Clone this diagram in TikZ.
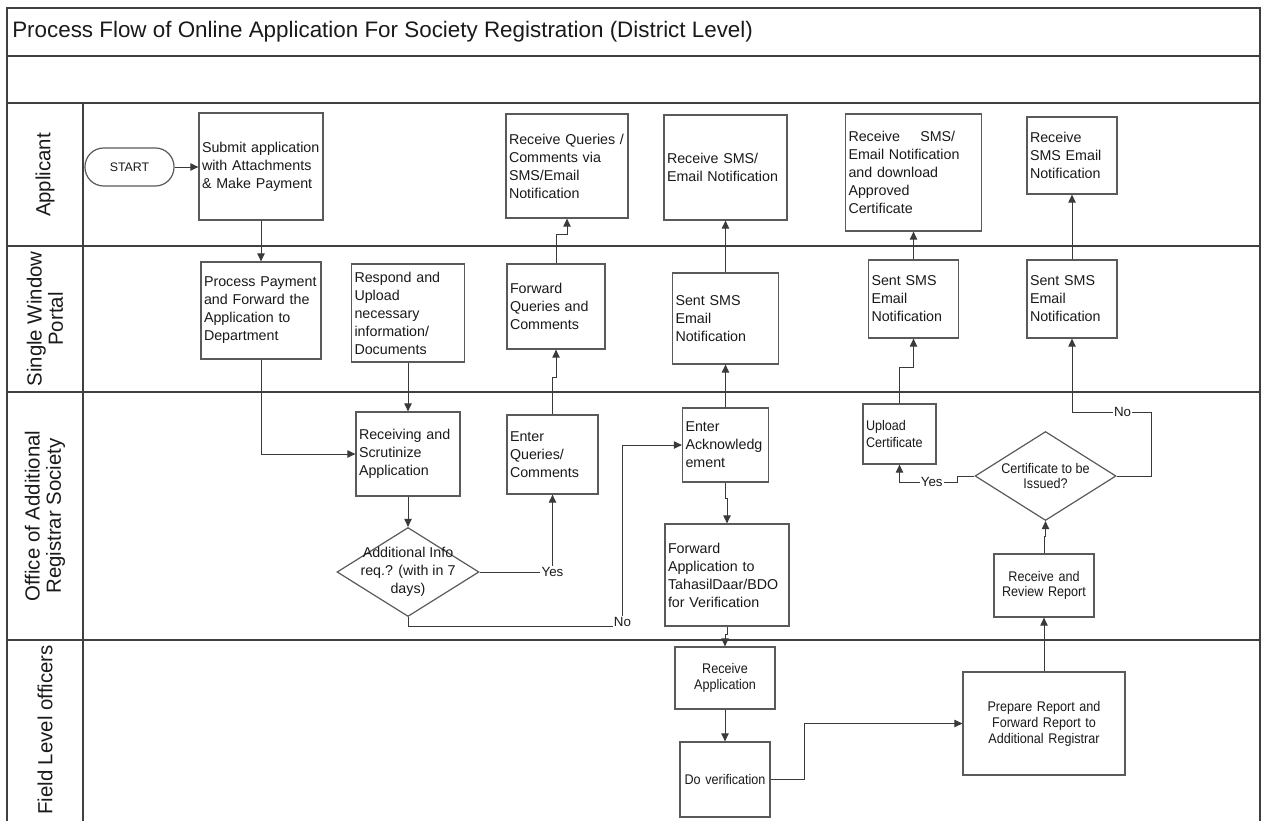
\documentclass[tikz,border=0pt]{standalone}
\usepackage{fontspec}
\setmainfont{Liberation Sans}
\newfontfamily\narrowfont[FakeStretch=0.9]{Liberation Sans}
\usetikzlibrary{arrows.meta,shapes.geometric}
\newlength\px
\setlength\px{0.75pt}
\hyphenpenalty=10000
\exhyphenpenalty=10000
\definecolor{framec}{HTML}{404040}
\definecolor{boxc}{HTML}{5A5A5A}
\definecolor{linec}{HTML}{3A3A3A}
\definecolor{inkc}{HTML}{1A1A1A}
\tikzset{
  frame/.style={draw=framec, line width=1.1pt},
  box/.style={draw=boxc, line width=0.9pt, fill=white, inner xsep=3\px, inner ysep=0pt,
    align=left, text=inkc, font=\fontsize{10.7}{13.5}\selectfont},
  nbox/.style={box, align=center, font=\narrowfont\fontsize{10.5}{12}\selectfont},
  decision/.style={diamond, draw=boxc, line width=0.9pt, fill=white, inner sep=0pt},
  dtext/.style={align=center, text=inkc, inner sep=0pt},
  conn/.style={draw=linec, line width=0.7pt},
  arr/.style={conn, -{Triangle[length=6pt,width=5.5pt]}},
  lbl/.style={fill=white, inner sep=1pt, text=inkc, font=\fontsize{10}{12}\selectfont},
  lane/.style={rotate=90, align=center, text=inkc, font=\fontsize{15.3}{16}\selectfont},
}
\begin{document}
\begin{tikzpicture}[x=\px, y=-\px]
\useasboundingbox (0,0) rectangle (1263,821);

% swimlane frame
\draw[frame] (7,821) -- (7,8) -- (1260,8) -- (1260,821);
\draw[frame] (7,56) -- (1260,56);
\draw[frame] (7,103) -- (1260,103);
\draw[frame] (83,103) -- (83,821);
\draw[frame] (7,246) -- (1260,246);
\draw[frame] (7,392) -- (1260,392);
\draw[frame] (7,640) -- (1260,640);

\node[anchor=west, inner sep=0pt, text=inkc, font=\fontsize{16.8}{19}\selectfont] (title) at (12,32)
  {Process Flow of Online Application For Society Registration (District Level)};

% lane names
\node[lane] (laneA) at (45,175) {Applicant};
\node[lane] (laneB) at (45,319) {Single Window\\Portal};
\node[lane] (laneC) at (45,516) {Office of Additional\\Registrar Society};
\node[lane] (laneD) at (45,730) {Field Level officers};

% Applicant
\node[draw=boxc, line width=0.9pt, fill=white, rounded corners=14pt, minimum width=89\px,
  minimum height=38\px, text=inkc, font=\fontsize{9.3}{11}\selectfont] (start) at (129.5,167) {START};
\node[box, text width=118\px, minimum height=107\px] (submit) at (261,166.5)
  {Submit application\\with Attachments\\\& Make Payment};
\node[box, text width=116\px, minimum height=104\px] (recvq) at (567,166)
  {Receive Queries /\\Comments via\\SMS/Email\\Notification};
\node[box, text width=117\px, minimum height=105\px] (recvsms1) at (725.5,167.5)
  {Receive SMS/\\Email Notification};
\node[box, text width=130\px, minimum height=117\px] (recvcert) at (913.5,172.5)
  {\hbox to 80pt{Receive\hfill SMS/}\\Email Notification\\and download\\Approved\\Certificate};
\node[box, text width=84\px, minimum height=77\px] (recvsms3) at (1072,155.5)
  {Receive\\SMS Email\\Notification};

% Single Window Portal
\node[box, text width=114\px, minimum height=97\px] (pay) at (261,310.5)
  {Process Payment\\and Forward the\\Application to\\Department};
\node[box, text width=107\px, minimum height=98\px] (respond) at (408,313)
  {Respond and\\Upload\\necessary\\information/\\Documents};
\node[box, text width=92\px, minimum height=85\px] (fwdq) at (556,306.5)
  {Forward\\Queries and\\Comments};
\node[box, text width=100\px, minimum height=91\px] (sent1) at (725.5,318.5)
  {Sent SMS\\Email\\Notification};
\node[box, text width=84\px, minimum height=78\px] (sent2) at (913.5,299)
  {Sent SMS\\Email\\Notification};
\node[box, text width=84\px, minimum height=78\px] (sent3) at (1072,299)
  {Sent SMS\\Email\\Notification};

% Office of Additional Registrar Society
\node[box, text width=98\px, minimum height=84\px] (scrutinize) at (408,454)
  {Receiving and\\Scrutinize\\Application};
\node[decision, minimum width=142\px, minimum height=89\px,
  label={[dtext, font=\fontsize{10.7}{13.5}\selectfont]center:Additional Info\\req.? (with in 7\\days)}]
  (addinfo) at (408,572) {};
\node[box, text width=85\px, minimum height=79\px] (enterq) at (552.5,454.5)
  {Enter\\Queries/\\Comments};
\node[box, text width=80\px, minimum height=74\px] (ack) at (725.5,445)
  {Enter\\Acknowledg\\ement};
\node[box, text width=118\px, minimum height=102\px] (fwdapp) at (727,575)
  {Forward\\Application to\\TahasilDaar/BDO\\for Verification};
\node[box, font=\narrowfont\fontsize{10.5}{12.5}\selectfont, text width=67\px, minimum height=60\px]
  (upload) at (899.5,434) {Upload\\Certificate};
\node[decision, minimum width=141\px, minimum height=89\px,
  label={[dtext, font=\narrowfont\fontsize{10.5}{11.5}\selectfont]center:Certificate to be\\Issued?}]
  (issue) at (1045.5,476) {};
\node[nbox, text width=94\px, minimum height=63\px, font=\narrowfont\fontsize{10.5}{11.5}\selectfont]
  (review) at (1044,585.5) {Receive and\\Review Report};

% Field Level officers
\node[nbox, text width=94\px, minimum height=62\px] (recvapp) at (725,678) {Receive\\Application};
\node[nbox, text width=84\px, minimum height=75\px] (verify) at (725,779.5) {Do verification};
\node[nbox, text width=156\px, minimum height=103\px] (report) at (1044,723.5)
  {Prepare Report and\\Forward Report to\\Additional Registrar};

% connectors
\draw[arr] (start.east) -- (start.east -| submit.west);
\draw[arr] (submit) -- (pay);
\draw[arr] (pay.south) |- (scrutinize.west);
\draw[arr] (respond) -- (scrutinize);
\draw[arr] (scrutinize) -- (addinfo);
\draw[arr] (addinfo.east) -| node[lbl] {Yes} (enterq.south);
\draw[arr] (enterq.north) -- ++(0,-37) -| (fwdq.south);
\draw[arr] (fwdq.north) -- ++(0,-29) -| (recvq.south);
\draw[arr] (sent1) -- (recvsms1);
\draw[arr] (ack) -- (sent1);
\coordinate (nobend) at (622.5,626);
\draw[arr] (addinfo.south) |- (nobend) node[lbl, yshift=3pt] {No} |- (ack.west);
\draw[arr] (ack.south) -- ++(0,16) -| (fwdapp.north);
\draw[arr] (fwdapp.south) -- ++(0,8) -| (recvapp.north);
\draw[arr] (recvapp) -- (verify);
\draw[arr] (verify.east) -- ++(34,0) |- (report.west);
\draw[arr] (report) -- (review);
\draw[arr] (review.north) -- ++(0,-17) -| (issue.south);
\coordinate (yesjog) at (957,482);
\draw[arr] (issue.west) -| (yesjog) -| node[lbl, pos=0.22] {Yes} (upload.south);
\draw[arr] (upload.north) -- ++(0,-36) -| (sent2.south);
\draw[arr] (sent2) -- (recvcert);
\draw[arr] (sent3) -- (recvsms3);
\coordinate (nobend2) at (1151,412);
\draw[arr] (issue.east) -| (nobend2) -| node[lbl, pos=0.18] {No} (sent3.south);
\end{tikzpicture}
\end{document}
